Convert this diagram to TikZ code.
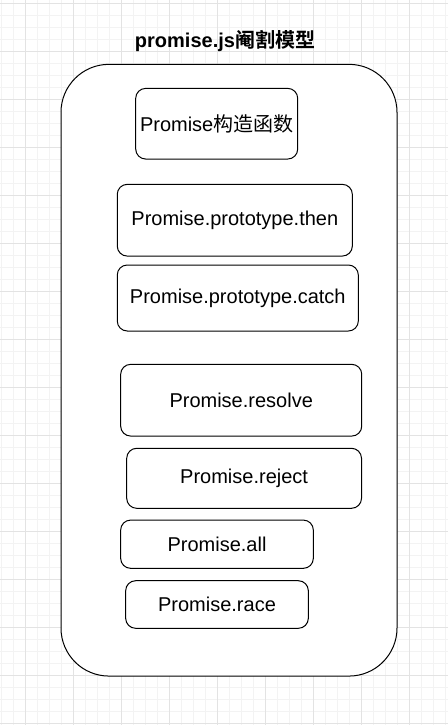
\documentclass[tikz,border=0pt]{standalone}
\usepackage{fontspec}
\setmainfont{Liberation Sans}
\newfontfamily\cjk{Noto Sans CJK SC}[BoldFont={Noto Sans CJK SC Bold}]
\definecolor{gridmajor}{HTML}{E3E3E3}
\definecolor{gridminor}{HTML}{F3F3F3}

\begin{document}
\begin{tikzpicture}[x=0.75pt,y=-0.75pt,
 api/.style={draw,rounded corners=7.5pt,line width=0.75pt,inner sep=0pt,
  font=\fontsize{15}{18}\selectfont},
 module/.style={draw,rounded corners=36pt,line width=0.75pt,fill=white,
  minimum width=252pt,minimum height=458.8pt}]
 \useasboundingbox (0,0) rectangle (448,725);
 \fill[white] (0,0) rectangle (448,725);
 % grid background
 \foreach \x in {1,13,...,448} \draw[gridminor,line width=0.75pt] (\x,0) -- (\x,725);
 \foreach \y in {3.7,15.7,...,725} \draw[gridminor,line width=0.75pt] (0,\y) -- (448,\y);
 \foreach \x in {25,73,...,448} \draw[gridmajor,line width=0.75pt] (\x,0) -- (\x,725);
 \foreach \y in {3.7,51.7,...,725} \draw[gridmajor,line width=0.75pt] (0,\y) -- (448,\y);

 \node[font=\fontsize{15}{18}\selectfont\bfseries] (title) at (225,41) {promise.js{\cjk 阉割模型}};
 \node[module] (promise) at (229,370.2) {};

 \node[api,minimum width=121.5pt,minimum height=53pt] (ctor) at (216.7,123.7) {Promise{\cjk 构造函数}};
 \node[api,minimum width=176.3pt,minimum height=53.8pt] (then) at (234.8,220.2) {Promise.prototype.then};
 \node[api,minimum width=180.8pt,minimum height=49.5pt] (catch) at (237.8,298) {Promise.prototype.catch};
 \node[api,minimum width=180.8pt,minimum height=53.8pt] (resolve) at (241.2,400.2) {Promise.resolve};
 \node[api,minimum width=176.1pt,minimum height=45pt] (reject) at (244.1,478.3) {Promise.reject};
 \node[api,minimum width=144.5pt,minimum height=36.2pt] (all) at (217,544.2) {Promise.all};
 \node[api,minimum width=137pt,minimum height=35.7pt] (race) at (217,604.5) {Promise.race};
\end{tikzpicture}
\end{document}
